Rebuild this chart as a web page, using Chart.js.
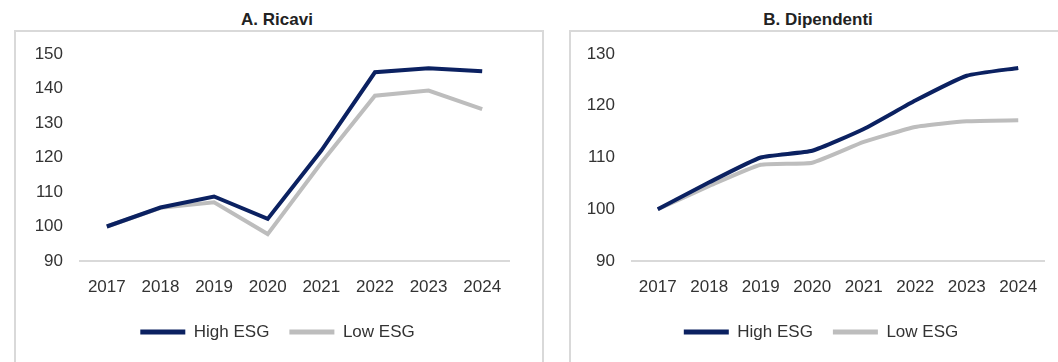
<!DOCTYPE html>
<html>
<head>
<meta charset="utf-8">
<script src="https://cdn.jsdelivr.net/npm/chart.js@4/dist/chart.umd.min.js"></script>
<style>
    body { margin: 0; background: #fff; width: 1058px; height: 362px; overflow: hidden; position: relative; font-family: "Liberation Sans", Arial, sans-serif; }
    .frame { position: absolute; top: 30px; height: 360px; border: 2px solid #d9d9d9; box-sizing: border-box; }
    .title { position: absolute; top: 9px; width: 300px; text-align: center; font-weight: bold; font-size: 17px; color: #222; line-height: 22px; }
    canvas { position: absolute; top: 0; }
</style>
</head>
<body>
<div class="frame" style="left:14px; width:530px;"></div>
<div class="frame" style="left:569px; width:520px;"></div>
<div class="title" style="left:127px;">A. Ricavi</div>
<div class="title" style="left:668px;">B. Dipendenti</div>
<div style="position:absolute; left:0; top:0; width:530px; height:362px;"><canvas id="chart-ricavi"></canvas></div>
<div style="position:absolute; left:545px; top:0; width:513px; height:362px;"><canvas id="chart-dipendenti"></canvas></div>
<script>
var years = ['2017', '2018', '2019', '2020', '2021', '2022', '2023', '2024'];
var ricaviHigh = [100, 105.5, 108.7, 102.2, 122, 144.7, 145.9, 145];
var ricaviLow = [100, 105.4, 107, 97.8, 118.5, 137.9, 139.4, 134];
var dipendentiHigh = [100, 105.2, 110, 111.3, 115.5, 121, 125.8, 127.3];
var dipendentiLow = [100, 104.5, 108.6, 109, 113, 115.9, 117, 117.2];
var seriesNames = ['High ESG', 'Low ESG'];

var navy = '#0b2161';
var grey = '#bdbdbd';
var font = { family: '"Liberation Sans", Arial, sans-serif', size: 17 };

function createChart(canvasId, high, low, yMin, yMax, axisWidth, legendLeft, padRight, tension) {
    var ctx = document.getElementById(canvasId).getContext('2d');
    // sposta la legenda per centrarla come nell'originale
    var legendShift = {
        id: 'legendShift',
        afterLayout: function (chart) {
            chart.legend.left = legendLeft;
        }
    };
    new Chart(ctx, {
        type: 'line',
        data: {
            labels: years,
            datasets: [{
                label: seriesNames[0],
                data: high,
                borderColor: navy,
                backgroundColor: navy,
                borderWidth: 4,
                pointRadius: 0,
                tension: tension
            }, {
                label: seriesNames[1],
                data: low,
                borderColor: grey,
                backgroundColor: grey,
                borderWidth: 4,
                pointRadius: 0,
                tension: tension
            }]
        },
        options: {
            responsive: true,
            maintainAspectRatio: false,
            animation: false,
            layout: { padding: { top: 54, left: 0, right: padRight, bottom: 11.5 } },
            scales: {
                x: {
                    offset: true,
                    grid: { display: false, drawTicks: false },
                    border: { display: true, color: '#d9d9d9', width: 2 },
                    ticks: { color: '#333', font: font, padding: 16, maxRotation: 0, autoSkip: false },
                    afterFit: function (scale) { scale.height = 42.5; }
                },
                y: {
                    min: yMin,
                    max: yMax,
                    grid: { display: false, drawTicks: false },
                    border: { display: false },
                    ticks: { color: '#333', font: font, padding: 17, stepSize: 10 },
                    afterFit: function (scale) { scale.width = axisWidth; }
                }
            },
            plugins: {
                legend: {
                    position: 'bottom',
                    labels: {
                        color: '#333',
                        font: font,
                        boxWidth: 45,
                        boxHeight: 5,
                        padding: 20,
                        generateLabels: function (chart) {
                            var items = Chart.defaults.plugins.legend.labels.generateLabels(chart);
                            items.forEach(function (item) {
                                item.lineWidth = 0;
                                item.fillStyle = item.strokeStyle;
                            });
                            return items;
                        }
                    }
                },
                tooltip: { enabled: false }
            }
        },
        plugins: [legendShift]
    });
}

createChart('chart-ricavi', ricaviHigh, ricaviLow, 90, 150, 80, 46, 21, 0);
createChart('chart-dipendenti', dipendentiHigh, dipendentiLow, 90, 130, 87, 53, 14, 0.15);
</script>
</body>
</html>
